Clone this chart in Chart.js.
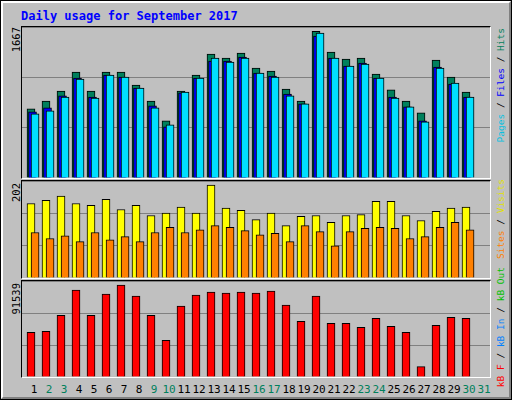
<!DOCTYPE html>
<html>
<head>
<meta charset="utf-8">
<script src="https://cdn.jsdelivr.net/npm/chart.js@4"></script>
<style>
  body { margin:0; background:#c0c0c0; }
  #wrap { position:relative; width:510px; height:398px; border:1px solid #000; background:#c0c0c0; font-family:"DejaVu Sans Mono",monospace; }
  #inner { position:absolute; left:0; top:0; width:506px; height:394px; border-left:2px solid #fff; border-top:2px solid #fff; border-right:2px solid #808080; border-bottom:2px solid #808080; }
  .panel { position:absolute; left:20px; width:470px; border-top:1px solid #000; border-left:1px solid #000; border-right:1px solid #fff; border-bottom:1px solid #fff; box-sizing:border-box; }
  .panel canvas { position:absolute; left:0; top:0; }
  .vlab { position:absolute; writing-mode:vertical-rl; transform:rotate(180deg); font-size:9.5px; white-space:nowrap; }
  #title { position:absolute; left:20px; top:8px; color:#0000ff; font-weight:bold; font-size:12px; }
  #days { position:absolute; top:382px; left:0; width:512px; height:14px; font-size:11px; }
  #days span { position:absolute; transform:translateX(-50%); }
</style>
</head>
<body>
<div id="wrap"><div id="inner"></div>
  <div id="title">Daily usage for September 2017</div>
  <div class="panel" style="top:25px;height:153px"><canvas id="c1"></canvas></div>
  <div class="panel" style="top:179px;height:99px"><canvas id="c2"></canvas></div>
  <div class="panel" style="top:279px;height:98px"><canvas id="c3"></canvas></div>
  <div class="vlab" style="left:9px;top:26px;font-size:10.5px">1667</div>
  <div class="vlab" style="left:9px;top:182px;font-size:10.5px">202</div>
  <div class="vlab" style="left:9px;top:282px;font-size:10.5px">91539</div>
  <div class="vlab" style="left:494px;top:27px"><span style="color:#00c0e0">Pages</span> / <span style="color:#0000ff">Files</span> / <span style="color:#00805c">Hits</span></div>
  <div class="vlab" style="left:494px;top:178px"><span style="color:#ff8000">Sites</span> / <span style="color:#e0e000">Visits</span></div>
  <div class="vlab" style="left:494px;top:266px"><span style="color:#ff0000">kB F</span> / <span style="color:#0080ff">kB In</span> / <span style="color:#00c000">kB Out</span></div>
  <div id="days"></div>
</div>
<script>
var days = [1,2,3,4,5,6,7,8,9,10,11,12,13,14,15,16,17,18,19,20,21,22,23,24,25,26,27,28,29,30];
var weekend = [2,3,9,10,16,17,23,24,30,31];
var hits  = [785,875,988,1203,988,1203,1203,1056,875,649,988,1169,1407,1362,1418,1249,1215,1011,875,1667,1430,1350,1362,1181,1000,875,739,1339,1147,977];
var files = [751,796,932,1135,920,1169,1147,1022,819,581,966,1135,1328,1328,1373,1192,1158,954,841,1611,1362,1271,1305,1135,920,807,649,1260,1067,920];
var pages = [728,762,920,1124,909,1169,1147,1022,796,604,977,1135,1362,1316,1362,1192,1147,932,841,1645,1362,1271,1294,1135,909,807,637,1249,1079,920];
var visits = [162,169,178,162,158,171,149,158,136,141,154,141,202,152,147,127,141,114,134,136,121,136,138,167,167,136,125,145,152,154];
var sites  = [99,86,92,79,99,83,90,79,99,110,99,105,114,110,103,94,97,79,114,101,70,101,108,110,108,86,90,110,121,105];
var kbytes = [44435,45438,61474,86532,61474,82523,91539,80518,61474,36417,70495,81520,84527,83525,84527,83525,85530,71497,55461,80518,53456,53456,49447,58468,50449,44435,10357,51451,59470,58468];

var dl = document.getElementById('days');
for (var d = 1; d <= 31; d++) {
  var s = document.createElement('span');
  s.textContent = d;
  s.style.left = (33 + (d - 1) * 15) + 'px';
  s.style.color = weekend.indexOf(d) >= 0 ? '#00805c' : '#000';
  dl.appendChild(s);
}

function pts(vals, off) { return vals.map(function (v, i) { return { x: days[i] + off, y: v }; }); }
// order: lower number is drawn on top
function ds(vals, off, color, order) {
  return { data: pts(vals, off), backgroundColor: color, borderColor: '#000', borderWidth: 1, barThickness: 8, grouped: false, order: order };
}

function panel(id, h, max, sets) {
  var c = document.getElementById(id);
  c.width = 468; c.height = h;
  c.style.width = '468px'; c.style.height = h + 'px';
  new Chart(c, {
    type: 'bar',
    data: { datasets: sets },
    options: {
      responsive: false, animation: false, events: [],
      layout: { padding: 0 },
      plugins: { legend: { display: false }, tooltip: { enabled: false } },
      scales: {
        x: { type: 'linear', min: 0.13, max: 31.33, display: false, offset: false },
        y: { min: 0, max: max, ticks: { display: false, stepSize: max / 3 },
             grid: { color: '#808080', drawTicks: false, lineWidth: 1 }, border: { display: false },
             afterFit: function (s) { s.width = 0; } }
      }
    }
  });
}

panel('c1', 151, 1715, [ds(hits, -0.27, '#00805c', 3), ds(files, -0.17, '#0000ff', 2), ds(pages, 0, '#00e0ff', 1)]);
panel('c2', 97, 211, [ds(visits, -0.27, '#ffff00', 2), ds(sites, 0, '#ff8000', 1)]);
panel('c3', 96, 95545, [ds(kbytes, -0.27, '#ff0000', 1)]);
</script>
</body>
</html>
